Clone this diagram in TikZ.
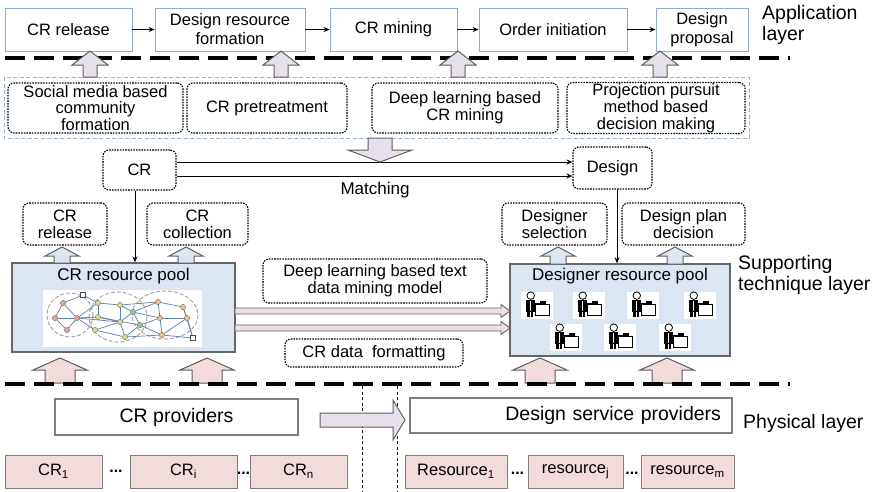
\documentclass[tikz,border=0pt]{standalone}
\usepackage{fontspec}
\setmainfont{Liberation Sans}
\usetikzlibrary{arrows.meta}

\definecolor{topblue}{HTML}{8EAADB}
\definecolor{lav}{HTML}{E6E0EC}
\definecolor{lblue}{HTML}{DCE6F2}
\definecolor{lpink}{HTML}{F2DCDB}
\definecolor{frameblue}{HTML}{95B3D7}
\definecolor{edgegray}{HTML}{7F7F7F}
\definecolor{blkgray}{HTML}{5F5F5F}
\definecolor{netblue}{HTML}{5E7FA8}
\definecolor{nred}{HTML}{F2A0A0}
\definecolor{nyel}{HTML}{D9DF8C}
\definecolor{ngrn}{HTML}{8FD08F}
\definecolor{norg}{HTML}{F5C27A}

% block arrows: x centre, y base, y tip, head half width, shaft half width, head length, style
\newcommand{\blkup}[7]{\draw[#7] (#1-#5,#2) -- (#1-#5,#3+#6) -- (#1-#4,#3+#6) -- (#1,#3)
  -- (#1+#4,#3+#6) -- (#1+#5,#3+#6) -- (#1+#5,#2) -- cycle;}
\newcommand{\blkdown}[7]{\draw[#7] (#1-#5,#2) -- (#1-#5,#3-#6) -- (#1-#4,#3-#6) -- (#1,#3)
  -- (#1+#4,#3-#6) -- (#1+#5,#3-#6) -- (#1+#5,#2) -- cycle;}
% x start, x tip, y centre, head half height, shaft half height, head length, style
\newcommand{\blkright}[7]{\draw[#7] (#1,#3-#5) -- (#2-#6,#3-#5) -- (#2-#6,#3-#4) -- (#2,#3)
  -- (#2-#6,#3+#4) -- (#2-#6,#3+#5) -- (#1,#3+#5) -- cycle;}
% a designer at a desk, on a white tile
\newcommand{\designer}[2]{%
  \fill[white] (#1-16,#2-13.5) rectangle (#1+16,#2+14);
  \begin{scope}[shift={(#1,#2)}, scale=1.25]
    \draw[line width=0.8] (-5,-7.5) circle (3);
    \fill (-8.5,-3.8) rectangle (-2,5.5);
    \draw[white, line width=0.6] (-5.3,-3.3) -- (-5.3,5);
    \fill (-8,5.5) rectangle (-6,9.5);
    \fill (-5,5.5) rectangle (-3,9.5);
    \draw[line width=0.8, fill=white] (-1,-0.5) rectangle (10,8.5);
    \fill (2,-3) rectangle (7,-0.5);
    \draw[line width=0.9] (-3,-1.5) -- (2,-1.5);
  \end{scope}}

\begin{document}
\begin{tikzpicture}[x=1pt,y=-1pt,
  appbox/.style={draw=topblue, line width=0.9, fill=white, align=center, inner sep=1,
    font=\fontsize{16.5}{19}\selectfont},
  dotbox/.style={draw=black, dash pattern=on 1.6pt off 1.1pt, line width=1.1,
    rounded corners=6, fill=white, align=center, inner sep=1,
    font=\fontsize{16.5}{16.8}\selectfont},
  pool/.style={draw=edgegray!80!black, line width=1.4, fill=lblue},
  provbox/.style={draw=edgegray, line width=1.1, fill=white, font=\fontsize{19.5}{22}\selectfont},
  pinkbox/.style={draw=edgegray, line width=1, fill=lpink, minimum height=33,
    font=\fontsize{16.5}{19}\selectfont},
  layerlbl/.style={font=\fontsize{19.5}{21}\selectfont, align=left, inner sep=0},
  plain/.style={font=\fontsize{17}{19}\selectfont, inner sep=0},
  blk/.style={draw=blkgray, line width=1},
  thinarrow/.style={-{Stealth[length=6,width=5]}, line width=0.8},
  sep/.style={line width=4, dash pattern=on 20pt off 9pt},
  vsep/.style={line width=1, dash pattern=on 3pt off 2.5pt},
  netedge/.style={netblue, line width=0.7},
  netnode/.style={draw=edgegray, line width=0.5, fill=#1}
]
\useasboundingbox (0,0) rectangle (880,491);

% ---------------- application layer ----------------
\node[appbox, minimum width=127, minimum height=43] (crrel) at (68.5,29.5) {CR release};
\node[appbox, minimum width=150, minimum height=43] (drf) at (230,29.5) {Design resource\\formation};
\node[appbox, minimum width=127, minimum height=43] (crmin) at (393.5,29.5) {CR mining};
\node[appbox, minimum width=148, minimum height=43] (ordinit) at (553,29.5) {Order initiation};
\node[appbox, minimum width=92, minimum height=43] (dprop) at (702,29.5) {Design\\proposal};
\draw[thinarrow] (crrel) -- (drf);
\draw[thinarrow] (drf) -- (crmin);
\draw[thinarrow] (crmin) -- (ordinit);
\draw[thinarrow] (ordinit) -- (dprop);
\node[layerlbl, anchor=north west] (applbl) at (762,5) {Application\\layer};

\draw[sep] (5,57.5) -- (790,57.5);

% ---------------- method frame ----------------
\draw[frameblue, line width=1, dash pattern=on 4pt off 2.5pt] (4,77) rectangle (749,138);
\node[dotbox, minimum width=175, minimum height=50] (smc) at (95.5,108) {Social media based\\community\\formation};
\node[dotbox, minimum width=160, minimum height=50] (crpre) at (267,108) {CR pretreatment};
\node[dotbox, minimum width=186, minimum height=50] (dlcr) at (465,108) {Deep learning based\\CR mining};
\node[dotbox, minimum width=178, minimum height=50] (ppm) at (656,108) {Projection pursuit\\method based\\decision making};

\blkup{90}{77}{51}{18}{7}{14}{blk, fill=lav}
\blkup{281}{77}{51}{18}{7}{14}{blk, fill=lav}
\blkup{458}{77}{51}{18}{7}{14}{blk, fill=lav}
\blkup{660}{77}{51}{18}{7}{14}{blk, fill=lav}

% ---------------- supporting technique layer ----------------
\node[dotbox, minimum width=73, minimum height=40] (cr) at (139.5,170) {CR};
\node[dotbox, minimum width=79, minimum height=42] (design) at (612.5,168) {Design};
\draw[thinarrow] (cr.east |- 0,162) -- (design.west |- 0,162);
\draw[thinarrow] (cr.east |- 0,176) -- (design.west |- 0,176);
\node[plain] (matching) at (375,190) {Matching};
\blkdown{380}{138}{162}{32}{12}{12}{blk, fill=lav}

\node[dotbox, minimum width=84, minimum height=42] (crrels) at (65,224) {CR\\release};
\node[dotbox, minimum width=101, minimum height=42] (crcol) at (197.5,224) {CR\\collection};
\node[dotbox, minimum width=105, minimum height=42] (dsel) at (554.5,224) {Designer\\selection};
\node[dotbox, minimum width=123, minimum height=42] (dplan) at (683.5,224) {Design plan\\decision};

\node[pool, minimum width=223, minimum height=89] (crpool) at (123.5,307.5) {};
\node[pool, minimum width=220, minimum height=92] (dpool) at (620,310) {};
\node[plain] (crpooltitle) at (123.5,276) {CR resource pool};
\node[plain] (dpooltitle) at (620,276) {Designer resource pool};

\draw[thinarrow] ([xshift=-4.5]cr.south) -- ([xshift=-4.5]cr.south |- crpool.north);
\draw[thinarrow] ([xshift=4.5]design.south) -- ([xshift=4.5]design.south |- dpool.north);

\blkup{62}{263}{247}{17}{8}{9}{blk, fill=lblue}
\blkup{186}{263}{247}{17}{8}{9}{blk, fill=lblue}
\blkup{558}{264}{247}{17}{8}{9}{blk, fill=lblue}
\blkup{675}{264}{247}{17}{8}{9}{blk, fill=lblue}

% community network inside the CR resource pool
\fill[white] (43,290) rectangle (202,347);
\begin{scope}[gray!70, line width=1, dash pattern=on 4pt off 2pt]
  \draw (70,315) ellipse (23 and 22);
  \draw (118,317) ellipse (29 and 25);
  \draw (165,315) ellipse (33 and 24);
\end{scope}
\foreach \n/\p in {a1/{63,303},a2/{55,318},a3/{67,330},a4/{77,318},g1/{83,295},
  b1/{98,303},b2/{98,317},b3/{95,330},b4/{120,305},b5/{120,322},b6/{125,337},
  c1/{133,312},c2/{140,325},d1/{158,302},d2/{183,307},d3/{160,318},d4/{187,318},
  d5/{162,335},d6/{193,338}}
  \coordinate (\n) at (\p);
\foreach \u/\v in {a1/a2,a1/a4,a2/a3,a3/a4,a2/a4,a1/g1,a4/b1,a4/b2,a4/b3,g1/b1,
  b1/b4,b1/b2,b2/b5,b3/b5,b3/b6,b4/c1,b4/b5,b5/c1,b5/b6,b6/c2,c1/c2,c1/d1,c1/d3,
  c2/d3,c2/d5,d1/d2,d1/d3,d2/d4,d3/d4,d3/d5,d4/d5,d4/d6,d5/d6,b4/d1,b2/c2,a4/b5,b6/d5,d2/d6}
  \draw[netedge] (\u) -- (\v);
\foreach \n in {a1,a2,a3,a4} \draw[netnode=nred] (\n) circle (2.6);
\foreach \n in {b1,b2,b3,b4,b5,b6} \draw[netnode=nyel] (\n) circle (2.6);
\foreach \n in {c1,c2} \draw[netnode=ngrn] (\n) circle (2.6);
\foreach \n in {d1,d2,d3,d4,d5} \draw[netnode=norg] (\n) circle (2.6);
\draw[draw=black!70, fill=white, line width=0.6] (80.5,292.5) rectangle (85.5,297.5);
\draw[draw=black!70, fill=white, line width=0.6] (190.5,335.5) rectangle (195.5,340.5);

% designers inside the designer resource pool
\designer{537}{305}
\designer{589}{305}
\designer{643}{305}
\designer{700}{305}
\designer{566}{337}
\designer{620}{337}
\designer{675}{337}

\node[dotbox, minimum width=224, minimum height=44] (dltext) at (375,281) {Deep learning based text\\data mining model};
\node[dotbox, minimum width=178, minimum height=28] (crfmt) at (374,353) {CR data\ \ formatting};

\blkright{235}{510}{311}{6.5}{3}{9}{blk, line width=0.8, fill=lav!60!lpink}
\blkright{235}{510}{328}{6.5}{3}{9}{blk, line width=0.8, fill=lav!60!lpink}

\node[layerlbl, anchor=north west] (suplbl) at (738,255) {Supporting\\technique layer};

\blkup{60}{383}{358}{27}{15}{12}{blk, fill=lpink}
\blkup{207}{383}{358}{27}{15}{12}{blk, fill=lpink}
\blkup{540}{383}{358}{27}{15}{12}{blk, fill=lpink}
\blkup{667}{383}{358}{27}{15}{12}{blk, fill=lpink}

\draw[sep] (5,383.5) -- (790,383.5);

% ---------------- physical layer ----------------
\draw[vsep] (362,386) -- (362,491);
\draw[vsep] (397,386) -- (397,491);

\node[provbox, minimum width=243, minimum height=36] (crprov) at (176.5,417) {CR providers};
\node[provbox, text width=300, inner xsep=11, minimum height=35, align=right] (dsprov) at (571,415.5) {Design service providers};
\blkright{320}{405}{420}{20}{7}{12}{blk, fill=lav}
\node[layerlbl, anchor=west] (phylbl) at (743,423) {Physical layer};

\node[pinkbox, minimum width=97] (cr1) at (53.5,471.5) {CR\textsubscript{1}};
\node[pinkbox, minimum width=107] (cri) at (183.5,471.5) {CR\textsubscript{i}};
\node[pinkbox, minimum width=97] (crn) at (298.5,471.5) {CR\textsubscript{n}};
\node[pinkbox, minimum width=102] (res1) at (456,471.5) {Resource\textsubscript{1}};
\node[pinkbox, minimum width=95] (resj) at (575.5,471.5) {resource\textsubscript{j}};
\node[pinkbox, minimum width=93] (resm) at (687.5,471.5) {resource\textsubscript{m}};
\node[plain, font=\fontsize{16}{18}\bfseries] (dots1) at (116,471) {...};
\node[plain, font=\fontsize{16}{18}\bfseries] (dots2) at (243.5,473) {...};
\node[plain, font=\fontsize{16}{18}\bfseries] (dots3) at (517.5,473) {...};
\node[plain, font=\fontsize{16}{18}\bfseries] (dots4) at (632,473) {...};
\end{tikzpicture}
\end{document}
